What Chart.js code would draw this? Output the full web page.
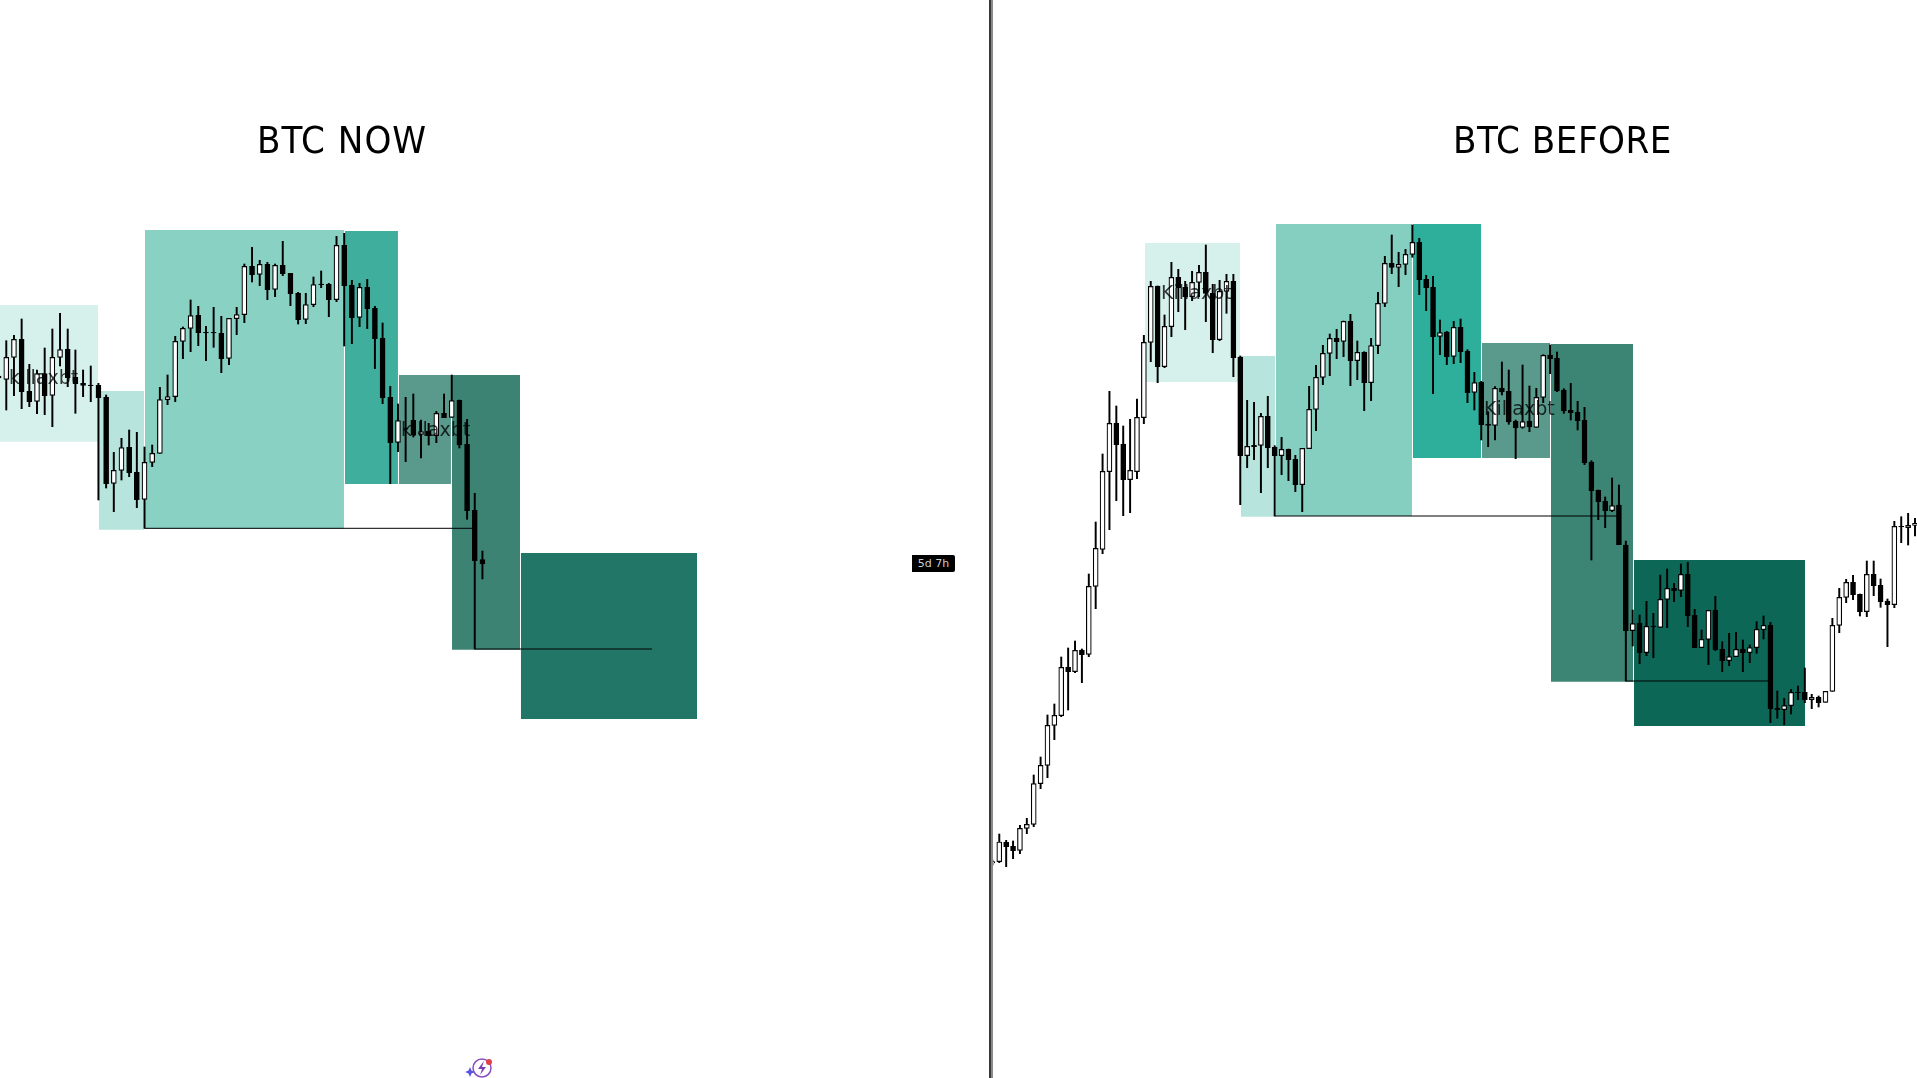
<!DOCTYPE html>
<html>
<head>
<meta charset="utf-8">
<title>BTC NOW / BTC BEFORE</title>
<script src="https://cdn.jsdelivr.net/npm/chart.js@4"></script>
<style>
  html, body { margin: 0; padding: 0; background: #fff; overflow: hidden; }
  #page { position: relative; width: 1917px; height: 1078px; overflow: hidden; }
  canvas { position: absolute; top: 0; }
  #chartNow { left: 0; }
  #chartBefore { left: 993px; }
  #sepDark { position: absolute; left: 989px; top: 0; width: 2px; height: 1078px; background: #3a3a3a; }
  #sepLight { position: absolute; left: 991px; top: 0; width: 2px; height: 1078px; background: #8a8a8a; }
  .title { position: absolute; top: 114px; font: 38px "DejaVu Sans Condensed", "DejaVu Sans", sans-serif; font-stretch: condensed; color: #000; white-space: nowrap; line-height: 52px; }
  .mark { position: absolute; font: 19px "DejaVu Sans", sans-serif; color: rgba(0,0,0,0.78); white-space: nowrap; line-height: 20px; }
  #badge { position: absolute; left: 912px; top: 555px; width: 43px; height: 17px; background: #000; color: #ccc; border-radius: 0 2px 2px 0; font: 11px "DejaVu Sans", sans-serif; line-height: 17px; text-align: center; }
  #icon { position: absolute; left: 465px; top: 1056px; }
</style>
</head>
<body>
<div id="page">
  <canvas id="chartNow" width="989" height="1078"></canvas>
  <canvas id="chartBefore" width="924" height="1078"></canvas>
  <div id="sepDark"></div>
  <div id="sepLight"></div>
  <div class="title" style="left:257px;letter-spacing:1px">BTC NOW</div>
  <div class="title" style="left:1453px;letter-spacing:0.5px">BTC BEFORE</div>
  <div class="mark" style="left:9px;top:367px">killaxbt</div>
  <div class="mark" style="left:401px;top:419px">killaxbt</div>
  <div class="mark" style="left:1161px;top:282px">Killaxbt</div>
  <div class="mark" style="left:1484px;top:398px">Killaxbt</div>
  <div id="badge">5d 7h</div>
  <svg id="icon" width="30" height="24" viewBox="0 0 30 24">
    <circle cx="17" cy="12" r="9" fill="none" stroke="#8a4fc0" stroke-width="1.5"/>
    <path d="M19 5 L13 13 H17 L15 19 L21 11 H17 Z" fill="#7b3fb5"/>
    <circle cx="24" cy="6" r="3" fill="#e0404a"/>
    <path d="M5 11 L6.5 14.5 L10 16 L6.5 17.5 L5 21 L3.5 17.5 L0 16 L3.500 14.5 Z" fill="#5a55e0"/>
  </svg>
</div>

<script>
// hidden price axis runs downward, values are read off the picture
// BTC NOW candles
const nowOpen = [376,379.3,357.3,339.3,391.3,401.3,373.7,395.3,357.3,349.3,377.3,383.3,385,385.3,397.3,483.3,470.3,447.3,472.3,499.3,462.3,453.3,399.7,396.7,341.3,328.3,315.3,332.3,332.3,333.3,358.3,318.7,314.7,266.3,274.3,264.3,289.3,265.3,273.3,293.3,319.3,304.7,284,284.3,299.7,245.3,285.3,317.3,287.3,308.3,338.3,397.3,442.3,428.7,420.3,434.3,431.3,435.7,413.3,417.3,400.3,444.3,510.3,559.7];
const nowHigh = [376,340.7,335.3,319,364.3,370,348,329,313.3,329,350,370,366,383.3,395,452.3,438.3,430,432.3,447,445,387.3,375,336.3,327,300,306.3,326.3,307.3,316.3,318.3,307.3,264,247.3,260.3,262.3,264,241.3,273.3,292.3,293.3,277,271,283.3,236.3,233.3,280.3,283.3,279.3,306.3,323,386.3,404,397.3,394,420,423.3,411.3,394,375,400,419.3,493.3,551];
const nowLow = [378,410,395.7,408.7,406.7,413.7,414.7,426.7,366,386.7,413.3,396.7,401.7,500,488,511.7,480,476.7,507.7,528.3,466.7,453.3,404.7,401.7,358.7,351.7,345.7,360.7,347.3,372.7,364.7,334.7,322.7,282,285.7,299.7,296.7,275.7,305.7,324,323.7,306.7,287.7,316.7,301.7,346,343.7,326.7,328.7,368.7,403.7,483.7,451.7,461.7,437,458,445,442.7,417.7,417.3,448,519.3,649,579];
const nowClose = [378,357.3,339.3,391.7,401.7,373.7,395.7,357.3,349.7,377.7,383.7,385.3,385.7,397.7,483.7,470.3,447.7,472.7,499.7,462.3,453.3,399.7,396.7,341.3,328.3,315.7,332.7,333,333,358.7,318.3,314.7,266.3,274.7,264.3,289.7,265.3,273.7,293.7,319.7,304.7,284.7,284.7,299.7,245.3,285.7,317.7,287.3,308.7,338.7,397.7,442.7,420.7,429.3,435,431.7,435.7,413.3,417.7,400.7,445,510.7,560.7,564];

// BTC BEFORE candles
const beforeOpen = [863,861.7,842.3,846.3,850.3,828.3,824.3,783.7,765.3,725.3,715.7,667.3,671.7,650,654.3,586.3,549.3,471.7,423.3,444,479.7,471.7,417.7,342.3,286,366.7,326.7,277.3,287.3,296.7,282.3,272.3,293.3,339.7,291.3,281.3,357,455.7,445.3,445.3,416.3,447.3,455.7,449.3,459.3,484.7,448.7,409.3,377.3,353.3,338.3,341.3,321.3,360.7,352.3,382.7,345.7,303.3,263.3,267.3,264.3,254.3,242.3,279.3,287.3,336.3,332,356.3,327.3,351.3,392.3,382.3,424,425.3,388,391.3,421.3,427.3,421,427.3,397.3,355,358.3,390,410.3,412.3,420.3,462,490.3,501.3,510.7,505,545,630.7,623.3,652.7,626,627.3,599.3,588.3,590.3,574.3,615.3,647.7,639.3,610.3,649.3,660.7,656.7,649.3,652.7,647.7,629.7,625.3,708,709.7,705.7,692,692.3,699.7,697.3,702.3,691.3,625.3,597.3,582.3,594.3,611.7,574.3,585.3,601,604.7,526.3,527.7,525.3];
const beforeHigh = [860,834,840.3,841,825.3,818.3,775,757,715,704,657,648,641,649,574,522,454,391.3,406,426,419.3,399,335.3,281.3,286,315,262.3,269.3,281.3,271.3,265.3,245,284.3,280.3,274.3,274.3,356,400.3,402.3,413.3,396.3,445.7,437.3,449,455.3,448.3,386.3,365.3,345.3,334,329.3,321,314.3,341,351.7,338.3,292.3,256.3,235,252.3,249.3,225,238.3,275.3,276.3,320,331.3,321.3,319,349.7,372.3,381.3,411.7,386.7,362,370,420,365,386,388.3,354.7,345,352,388.7,383.3,401.3,407.3,460.7,490,497,478,485,541,610,615,601.3,613.3,575,569,583.3,564,562.3,609.3,630,610.3,596.3,641.7,633.3,632.3,640,645,621.7,616,622.3,691,698.3,689.3,686,668,694.3,696,691.3,618.3,588.3,579.3,575.3,594,561,561,579,599,521.3,516.7,513.3,518.3];
const beforeLow = [865,862.7,866.700,858.7,853.7,833.7,826.7,788.7,777.7,739.7,716.7,710,672.7,682.7,656.7,608.7,553.7,529.7,500.7,515.7,512.7,478.7,423.7,361.7,382.7,367.7,336.7,311.7,329.7,300.7,296.7,321.7,352.7,340.7,313.3,376.7,504.7,467.7,459.7,492.7,467.7,516,474.7,480.7,491.7,511.7,448.7,430.7,384.7,375.7,358.7,356.7,385.7,379.7,410.7,400.7,353.7,306.7,273.7,286.7,274.7,257.3,294.7,310.7,393.7,354.7,364.7,363.7,362.7,402.7,410,440,446.7,440,395,424.3,458.7,428.3,431.7,427.3,402.7,373.7,391.7,413.3,420,430,464.7,560,519.7,527.700,511.7,544.7,681,646,663.7,655.7,657.7,627.3,627.7,601.7,596.7,626.7,647.7,647.7,664.7,650.7,671.7,665.7,656.7,671.7,662.7,653.3,639,722.7,718.3,724.7,714,699.7,702.7,708.7,707,702.3,691.3,632.7,602.7,599.7,616,616.7,595.7,607.3,646.7,607.7,542.7,545,536];
const beforeClose = [861.7,842,846.7,850.7,828.3,824.3,783.7,765.3,725.3,715.3,667.3,671.7,650.3,654.7,586.3,548.3,471.3,423.3,444.7,479.7,470.3,417.3,342.3,286.3,366.7,326.3,277.3,288,296.7,282.3,272.3,293.3,339.7,291.3,281.3,357.7,455.7,446.3,446.7,416.3,447.7,455.7,449.3,459.7,484.7,448.3,409.3,377.3,353.3,338.3,341.7,321.3,360.7,352.3,382.7,345.7,303.3,263.3,267.3,264.3,254.3,242.3,279.7,287.7,336.7,332.7,356.7,327.3,351.7,392.7,382.7,424.7,425.3,388.3,392,422,428,421.7,426.7,397.3,355.3,358.7,391,411,412.7,420.7,463,490.7,501.7,510.7,505.7,544.7,630.7,623.7,652.7,626.3,626.7,599.3,588.3,590.7,574.3,615.7,647.7,639.3,610.3,649.7,660.7,656.7,649.3,652.7,647.7,629.3,625.3,708.7,709.7,705.7,692.3,692.7,699.7,697.3,702.7,691.3,625.3,597.3,582.3,594.7,611.7,574.3,585.7,601.7,604.7,526.3,527,525.3,523.3];

// shaded zones: bar range and price range
const nowZoneStart = [0,13.07,19.06,45.1,52.13,59.04,68];
const nowZoneEnd = [12.94,18.93,44.97,52,58.9,67.9,90.94];
const nowZoneTop = [305,391,230,231,375,375,553];
const nowZoneBottom = [441.7,529.7,528.7,484,484,649.7,719];
const nowZoneColors = ["#d6f1eb","#b7e4dc","#88d1c3","#40ae9c","#5a9a8d","#3c8374","#227667"];

const beforeZoneStart = [22.16,36.11,41.19,61.09,71.11,81.13,93.19];
const beforeZoneEnd = [35.96,41.05,60.94,70.97,80.99,93.04,118.03];
const beforeZoneTop = [243,356,224,224,343,344,560];
const beforeZoneBottom = [382,516.7,516,458,458,681.7,726];
const beforeZoneColors = ["#d6f1eb","#b7e4dc","#85cfc1","#2daf9b","#5a9a8c","#3c8474","#0c6756"];

// horizontal level lines
const nowLineStart = [19,62];
const nowLineEnd = [62,85.08];
const nowLineLevel = [528.3,649];
const beforeLineStart = [41,92];
const beforeLineEnd = [91,113];
const beforeLineLevel = [516,681];

function makeChart(id, candles, zones, lines, xMin, xMax) {
  const wicks = candles.high.map((h, i) => ({ x: i, y: [h, candles.low[i]] }));
  const bodies = candles.open.map((o, i) => ({ x: i, y: [o, candles.close[i]] }));
  const bodyColors = candles.open.map((o, i) => (candles.close[i] < o ? "#fff" : "#000"));

  const datasets = [];
  zones.start.forEach((s, i) => {
    datasets.push({
      type: "line",
      data: [{ x: s, y: zones.top[i] }, { x: zones.end[i], y: zones.top[i] }],
      fill: { value: zones.bottom[i] },
      backgroundColor: zones.colors[i],
      borderWidth: 0,
      pointRadius: 0,
      order: 10,
    });
  });
  datasets.push({
    type: "bar",
    data: wicks,
    backgroundColor: "#000",
    barThickness: 1.3,
    grouped: false,
    order: 3,
  });
  lines.start.forEach((s, i) => {
    datasets.push({
      type: "line",
      data: [{ x: s, y: lines.level[i] }, { x: lines.end[i], y: lines.level[i] }],
      borderColor: "#000",
      borderWidth: 1,
      pointRadius: 0,
      order: 2,
    });
  });
  datasets.push({
    type: "bar",
    data: bodies,
    backgroundColor: bodyColors,
    borderColor: "#000",
    borderWidth: 1.2,
    borderSkipped: false,
    barThickness: 5,
    grouped: false,
    order: 1,
  });

  return new Chart(document.getElementById(id), {
    data: { datasets },
    options: {
      responsive: false,
      animation: false,
      events: [],
      layout: { padding: 0 },
      plugins: { legend: { display: false }, tooltip: { enabled: false } },
      scales: {
        x: { type: "linear", display: false, min: xMin, max: xMax, grid: { display: false }, offset: false },
        y: { type: "linear", display: false, min: 0, max: 1078, reverse: true, grid: { display: false } },
      },
    },
  });
}

makeChart(
  "chartNow",
  { open: nowOpen, high: nowHigh, low: nowLow, close: nowClose },
  { start: nowZoneStart, end: nowZoneEnd, top: nowZoneTop, bottom: nowZoneBottom, colors: nowZoneColors },
  { start: nowLineStart, end: nowLineEnd, level: nowLineLevel },
  0.182, 128.96
);

makeChart(
  "chartBefore",
  { open: beforeOpen, high: beforeHigh, low: beforeLow, close: beforeClose },
  { start: beforeZoneStart, end: beforeZoneEnd, top: beforeZoneTop, bottom: beforeZoneBottom, colors: beforeZoneColors },
  { start: beforeLineStart, end: beforeLineEnd, level: beforeLineLevel },
  0.087, 134.29
);
</script>
</body>
</html>
